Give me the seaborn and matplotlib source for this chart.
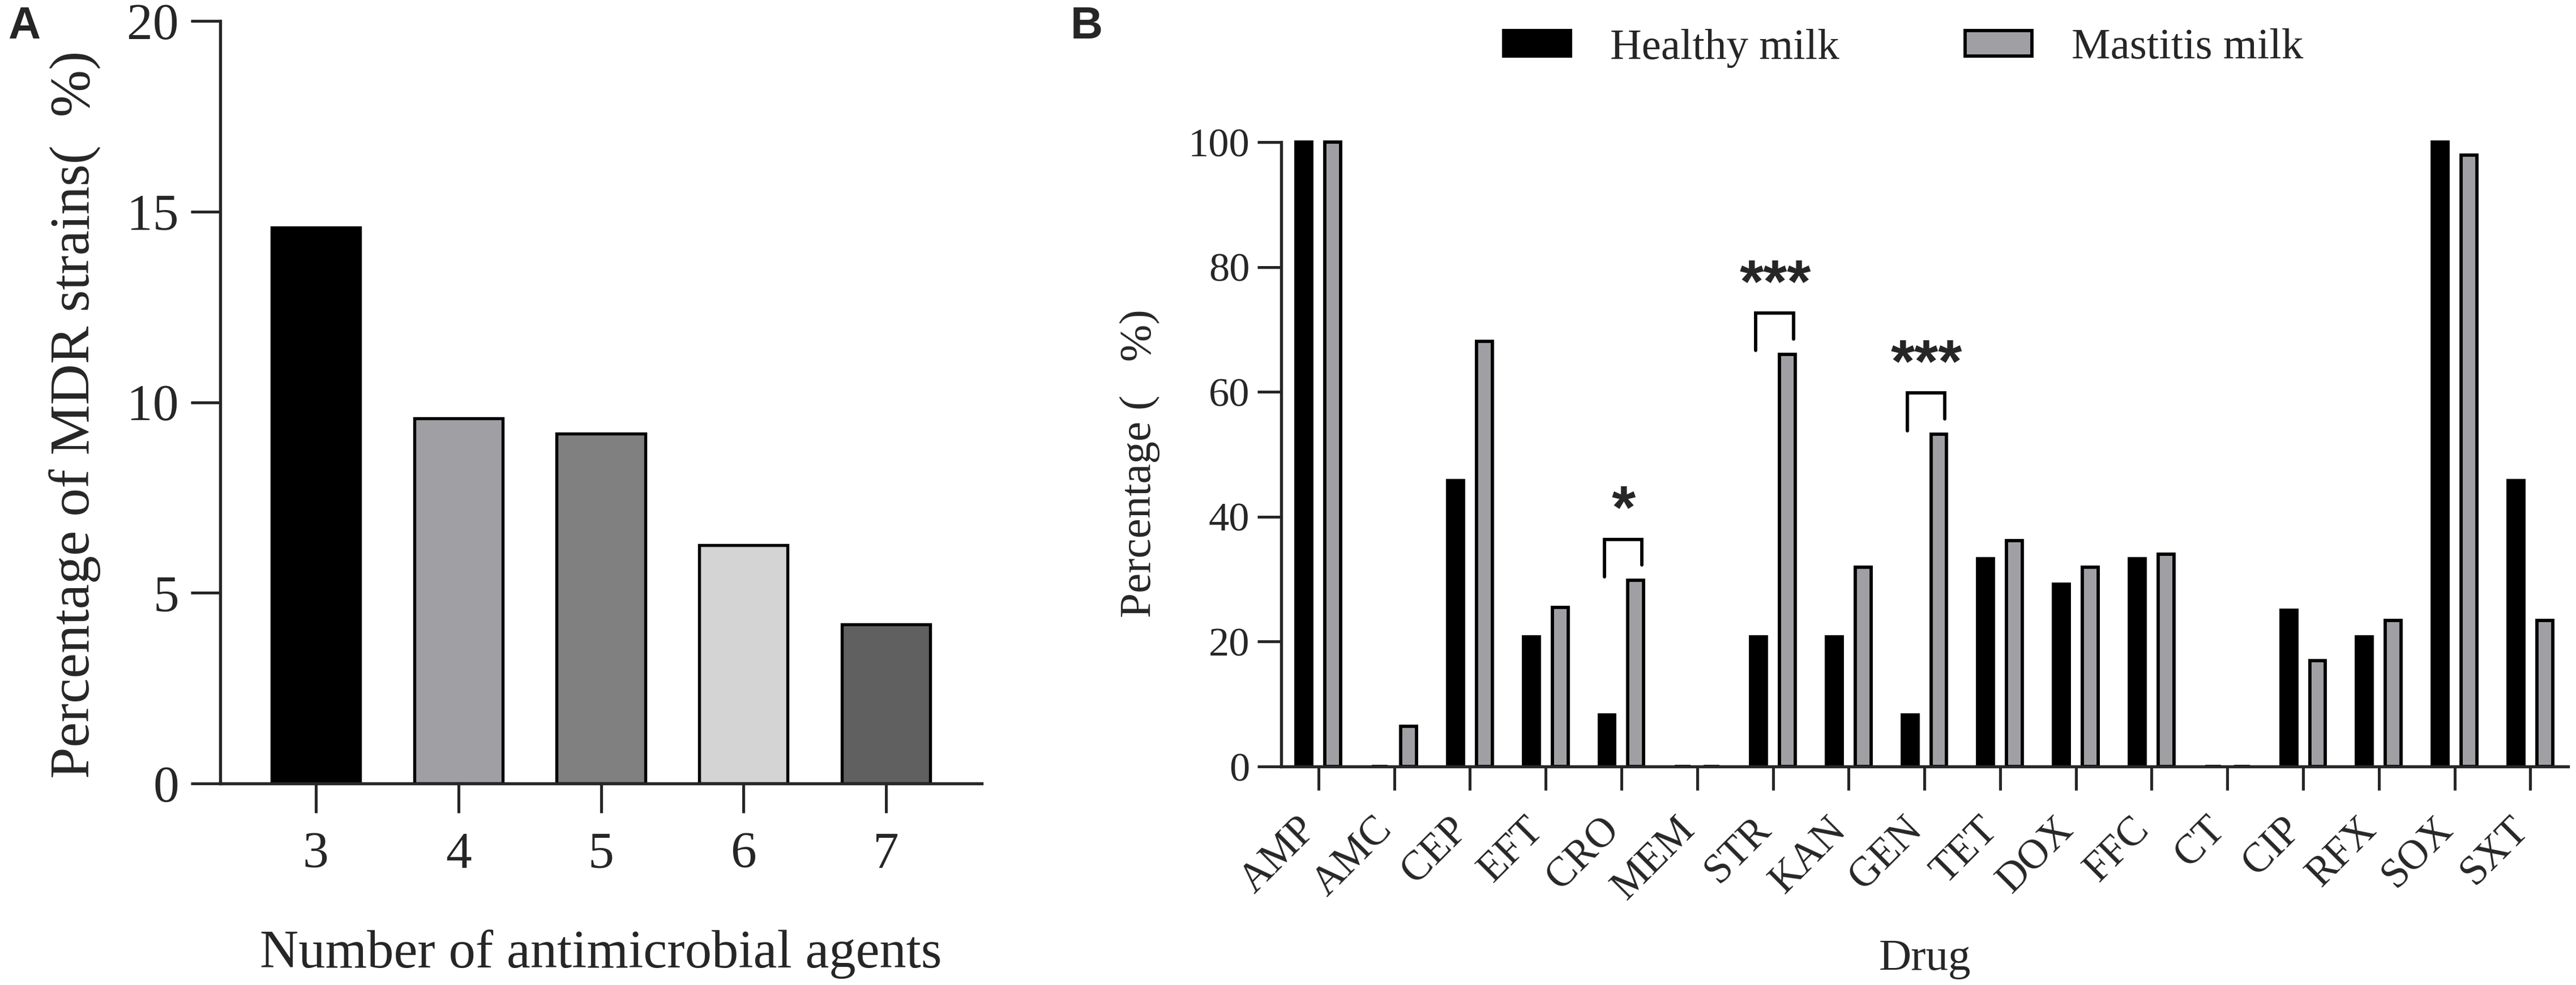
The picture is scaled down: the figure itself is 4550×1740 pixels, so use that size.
import pandas as pd
import matplotlib
matplotlib.use('Agg')
import matplotlib.pyplot as plt
import matplotlib.transforms as mtransforms
import seaborn as sns

# panel A data
mdr_agents = ['3', '4', '5', '6', '7']
mdr_pct = [14.58, 9.58, 9.17, 6.25, 4.17]
mdr_colors = ['#000000', '#A0A0A4', '#808080', '#D4D4D4', '#606060']

# panel B data
drugs = ['AMP', 'AMC', 'CEP', 'EFT', 'CRO', 'MEM', 'STR', 'KAN', 'GEN',
         'TET', 'DOX', 'FFC', 'CT', 'CIP', 'RFX', 'SOX', 'SXT']
healthy = [100, 0, 45.8, 20.8, 8.3, 0, 20.8, 20.8, 8.3,
           33.3, 29.2, 33.3, 0, 25.0, 20.8, 100, 45.8]
mastitis = [100, 6.4, 68.1, 25.5, 29.8, 0, 66.0, 31.9, 53.2,
            36.2, 31.9, 34.0, 0, 17.0, 23.4, 97.9, 23.4]
groups = ['Healthy milk', 'Mastitis milk']
group_colors = ['#000000', '#A0A0A4']
sig_drugs = ['CRO', 'STR', 'GEN']
sig_marks = ['*', '***', '***']

sns.set_style('ticks')
plt.rcParams['font.family'] = ['Liberation Serif', 'DejaVu Serif']
plt.rcParams['axes.linewidth'] = 1.3

DPI = 300
fig = plt.figure(figsize=(4550 / DPI, 1740 / DPI), dpi=DPI)
axA = fig.add_axes([0.0855, 0.2046, 0.2956, 0.7741])
axB = fig.add_axes([0.4974, 0.2218, 0.4996, 0.6339])

# ---- A ----
dfA = pd.DataFrame({'agents': mdr_agents, 'pct': mdr_pct})
sns.barplot(data=dfA, x='agents', y='pct', hue='agents', palette=mdr_colors,
            width=0.62, edgecolor='black', linewidth=1.3, legend=False,
            errorbar=None, ax=axA)
axA.set_xlim(-0.67, 4.67)
axA.set_ylim(0, 20)
axA.set_yticks([0, 5, 10, 15, 20])
axA.tick_params(axis='both', length=12.5, width=1.2, labelsize=22)
axA.tick_params(axis='x', pad=8)
axA.tick_params(axis='y', pad=5)
axA.set_xlabel('Number of antimicrobial agents', fontsize=22.7, va='baseline')
axA.xaxis.set_label_coords(0.5, -0.2413)
axA.set_ylabel('Percentage of MDR strains(  %)', fontsize=24, ha='left',
               va='baseline', rotation_mode='anchor')
axA.yaxis.set_label_coords(-0.1717, 0.0067)
sns.despine(ax=axA)

# ---- B ----
dfB = pd.DataFrame({
    'Drug': drugs * 2,
    'Percentage': healthy + mastitis,
    'Group': [groups[0]] * len(drugs) + [groups[1]] * len(drugs),
})
sns.barplot(data=dfB, x='Drug', y='Percentage', hue='Group', palette=group_colors,
            width=0.76, gap=0.45, edgecolor='black', linewidth=1.4,
            errorbar=None, ax=axB)
for p in axB.patches:
    p.set_clip_on(False)
axB.set_xlim(-0.49, 16.5)
axB.set_ylim(0, 100)
axB.set_yticks([0, 20, 40, 60, 80, 100])
axB.tick_params(axis='both', length=10, width=1.2)
axB.tick_params(axis='y', labelsize=17.4, pad=3.4)
axB.tick_params(axis='x', labelsize=17.5, pad=8.6)
offset = mtransforms.ScaledTranslation(10 / DPI, 0, fig.dpi_scale_trans)
for lab in axB.get_xticklabels():
    lab.set_rotation(45)
    lab.set_ha('right')
    lab.set_transform(lab.get_transform() + offset)
axB.set_xlabel('Drug', fontsize=19, va='baseline')
axB.xaxis.set_label_coords(0.5, -0.3255)
axB.set_ylabel('Percentage (   %)', fontsize=19, ha='left', va='baseline',
               rotation_mode='anchor')
axB.yaxis.set_label_coords(-0.1016, 0.2384)
sns.despine(ax=axB)

# significance brackets
for drug, mark in zip(sig_drugs, sig_marks):
    i = drugs.index(drug)
    m = mastitis[i]
    axB.plot([i - 0.225, i - 0.225, i + 0.27, i + 0.27],
             [m + 0.6, m + 6.6, m + 6.6, m + 2.5],
             color='black', lw=1.4, solid_joinstyle='miter', clip_on=False)
    axB.text(i + 0.03, m + 8.4, mark, ha='center', va='baseline', fontsize=26,
             fontweight='bold', family='Liberation Sans')

handles, labels = axB.get_legend_handles_labels()
if axB.get_legend() is not None:
    axB.get_legend().remove()
fig.legend(handles, labels, loc='center', bbox_to_anchor=(3362 / 4550, 1 - 85 / 1740),
           ncol=2, frameon=False, fontsize=18.5, handlelength=1.53, handleheight=0.52,
           handletextpad=0.91, columnspacing=2.88)

fig.text(14 / 4550, 1 - 10 / 1740, 'A', ha='left', va='top', fontsize=19,
         fontweight='bold', family='Liberation Sans')
fig.text(1891 / 4550, 1 - 10 / 1740, 'B', ha='left', va='top', fontsize=19,
         fontweight='bold', family='Liberation Sans')

fig.savefig('out.png', dpi=DPI)
